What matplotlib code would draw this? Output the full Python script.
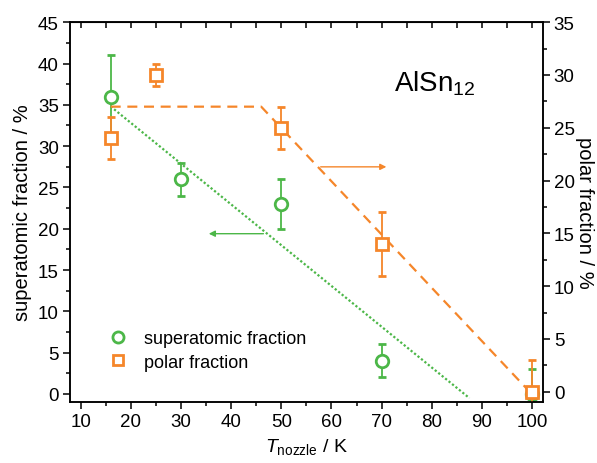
import numpy as np
import matplotlib.pyplot as plt
from matplotlib.ticker import MultipleLocator
from matplotlib.lines import Line2D

plt.rcParams['font.family'] = ['Liberation Sans', 'DejaVu Sans']
plt.rcParams['mathtext.fontset'] = 'custom'
plt.rcParams['mathtext.rm'] = 'Liberation Sans'
plt.rcParams['mathtext.it'] = 'Liberation Sans:italic'

green = '#4cb748'
orange = '#f5862a'

# superatomic fraction (left axis)
sup_x = [16, 30, 50, 70, 100]
sup_y = [36, 26, 23, 4, 0]
sup_err = [5, 2, 3, 2, 3]
sup_fit_x = [16, 87.5]
sup_fit_y = [34.8, -0.5]

# polar fraction (right axis)
pol_x = [16, 25, 50, 70, 100]
pol_y = [24, 30, 25, 14, 0]
pol_err = [2, 1, 2, 3, 3]
pol_fit_x = [16, 46, 99.5]
pol_fit_y = [27, 27, 0]

fig = plt.figure(figsize=(5.97, 4.64), dpi=100)
ax = fig.add_axes([0.1173, 0.1315, 0.7917, 0.8185])
ax2 = ax.twinx()

ax.plot(sup_fit_x, sup_fit_y, ls=(0, (1, 1)), color=green, lw=1.6)
ax.errorbar(sup_x, sup_y, yerr=sup_err, fmt='o', color=green, mfc='white',
            mec=green, ms=9, mew=2, elinewidth=1.3, capsize=3.2, capthick=1.3)

ax2.plot(pol_fit_x, pol_fit_y, ls=(0, (4.5, 3)), color=orange, lw=1.6)
ax2.errorbar(pol_x, pol_y, yerr=pol_err, fmt='s', color=orange, mfc='white',
             mec=orange, ms=8.5, mew=2, elinewidth=1.3, capsize=3.2, capthick=1.3)

# arrows pointing to the axis each series belongs to
ax.annotate('', xy=(35, 19.4), xytext=(47, 19.4),
            arrowprops=dict(arrowstyle='-|>', color=green, lw=1, mutation_scale=9))
ax2.annotate('', xy=(71.5, 21.3), xytext=(57.3, 21.3),
             arrowprops=dict(arrowstyle='-|>', color=orange, lw=1, mutation_scale=9))

ax.text(72.4, 36.7, 'AlSn$_{12}$', fontsize=20, ha='left', va='baseline')

ax.set_xlim(7.9, 102.1)
ax.set_ylim(-0.97, 45)
ax2.set_ylim(-0.97, 35)

ax.xaxis.set_major_locator(MultipleLocator(10))
ax.xaxis.set_minor_locator(MultipleLocator(5))
ax.yaxis.set_major_locator(MultipleLocator(5))
ax.yaxis.set_minor_locator(MultipleLocator(2.5))
ax2.yaxis.set_major_locator(MultipleLocator(5))
ax2.yaxis.set_minor_locator(MultipleLocator(2.5))

for a in (ax, ax2):
    for s in a.spines.values():
        s.set_linewidth(1.1)
ax.tick_params(axis='both', which='major', direction='out', length=5, width=1.1,
               labelsize=13.5, pad=3)
ax.tick_params(axis='both', which='minor', direction='out', length=3, width=1.1)
ax2.tick_params(axis='y', which='major', direction='out', length=5, width=1.1,
                labelsize=13.5, pad=3)
ax2.tick_params(axis='y', which='minor', direction='out', length=3, width=1.1)

top = ax.secondary_xaxis('top')
top.xaxis.set_major_locator(MultipleLocator(10))
top.xaxis.set_minor_locator(MultipleLocator(5))
top.tick_params(which='both', direction='in', length=4.5, width=1.1, labeltop=False)

ax.set_xlabel(r'$T_{\mathrm{nozzle}}$ / K', fontsize=14, labelpad=4)
ax.set_ylabel('superatomic fraction / %', fontsize=14.5, labelpad=4)
ax2.set_ylabel('polar fraction / %', fontsize=14.5, rotation=270,
               ha='center', va='center')
ax2.yaxis.set_label_coords(1.088, 0.5)

handles = [
    Line2D([], [], ls='none', marker='o', mfc='white', mec=green, ms=8, mew=2),
    Line2D([], [], ls='none', marker='s', mfc='white', mec=orange, ms=7.5, mew=2),
]
ax2.legend(handles, ['superatomic fraction', 'polar fraction'], loc='lower left',
           bbox_to_anchor=(0.045, 0.04), frameon=False, fontsize=13,
           handletextpad=0.8, labelspacing=0.35, handlelength=1.2)

fig.savefig('out.png', dpi=100)
